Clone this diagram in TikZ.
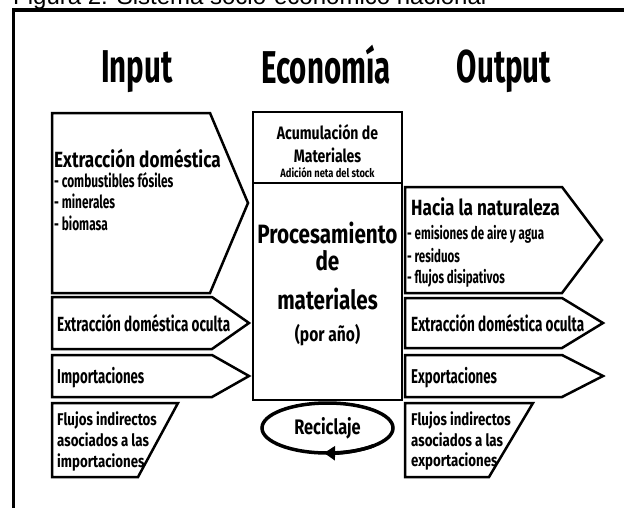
\documentclass[tikz,border=0pt]{standalone}
\usepackage{fontspec}
\setmainfont{Fira Sans}[FakeStretch=0.78]
\newfontfamily\titlefont{Fira Sans}[FakeStretch=0.64]
\newfontfamily\narrowfont{Fira Sans}[FakeStretch=0.66]
\newfontfamily\capfont{Liberation Sans}
\usetikzlibrary{shapes.geometric,arrows.meta}
\tikzset{
  box/.style={draw, line width=2.5pt, line join=miter},
  coltitle/.style={font=\titlefont\bfseries\fontsize{46}{48}\selectfont, anchor=base, inner sep=0pt},
  flowhead/.style={font=\bfseries\fontsize{22}{24}\selectfont, anchor=base west, inner sep=0pt},
  flowitem/.style={font=\narrowfont\bfseries\fontsize{18}{20}\selectfont, anchor=base west, inner sep=0pt},
  flowname/.style={font=\narrowfont\bfseries\fontsize{20}{22}\selectfont, anchor=base west, inner sep=0pt},
  flowsmall/.style={font=\bfseries\fontsize{17}{19}\selectfont, anchor=base west, inner sep=0pt},
  midtext/.style={font=\bfseries\fontsize{18}{20}\selectfont, anchor=base, inner sep=0pt},
  midbig/.style={font=\bfseries\fontsize{26.5}{30}\selectfont, anchor=base, inner sep=0pt},
}
\begin{document}
\begin{tikzpicture}[x=1pt,y=-1pt]
  \useasboundingbox (0,0) rectangle (624,507);
  \fill[white] (0,0) rectangle (624,507);
  % caption and frame
  \node[font=\capfont\fontsize{24}{26}\selectfont, anchor=base west, inner sep=0pt] (cap) at (13,4) {Figura 2: Sistema socio-económico nacional};
  \draw[line width=3.2pt] (13.5,520) |- (640,10);
  % column titles
  \node[coltitle] (input) at (137,82) {Input};
  \node[coltitle] (econ) at (326,83) {Economía};
  \node[coltitle] (output) at (504,82) {Output};
  % input side
  \draw[box] (52,113) -- (210,113) -- (248,203) -- (210,293) -- (52,293) -- cycle;
  \draw[box] (52,297) -- (212,297) -- (249,323) -- (212,349) -- (52,349) -- cycle;
  \draw[box] (52,355) -- (212,355) -- (249,376) -- (212,397) -- (52,397) -- cycle;
  \draw[box] (52,403) -- (178,403) -- (138,477) -- (52,477) -- cycle;
  \node[flowhead] (inext) at (54,167) {Extracción doméstica};
  \node[flowitem] (comb) at (54,187) {- combustibles fósiles};
  \node[flowitem] (mine) at (54,208) {- minerales};
  \node[flowitem] (biom) at (54,230) {- biomasa};
  \node[flowname, font=\narrowfont\bfseries\fontsize{20.5}{22}\selectfont] (inoculta) at (57,331) {Extracción doméstica oculta};
  \node[flowname] (import) at (57,383) {Importaciones};
  \node[flowsmall] (influ1) at (57,425) {Flujos indirectos};
  \node[flowsmall] (influ2) at (57,446) {asociados a las};
  \node[flowsmall] (influ3) at (57,467) {importaciones};
  % economy
  \node[box, minimum width=149pt, minimum height=71pt, inner sep=0pt] (acum) at (327.5,147.5) {};
  \node[box, minimum width=149pt, minimum height=217pt, inner sep=0pt] (proc) at (327.5,291.5) {};
  \node[midtext] (acum1) at (327.5,139) {Acumulación de};
  \node[midtext] (acum2) at (327.5,162) {Materiales};
  \node[midtext, font=\bfseries\fontsize{12}{13}\selectfont] (stock) at (327.5,177) {Adición neta del stock};
  \node[midbig] (proc1) at (327.5,243) {Procesamiento};
  \node[midbig] (proc2) at (327.5,270) {de};
  \node[midbig] (proc3) at (327.5,309) {materiales};
  \node[midtext, font=\bfseries\fontsize{20}{22}\selectfont] (anio) at (327.5,341) {(por año)};
  \node[draw, ellipse, line width=3.5pt, minimum width=131pt, minimum height=50pt, inner sep=0pt,
        font=\bfseries\fontsize{21}{23}\selectfont] (reci) at (327.5,428) {Reciclaje};
  \draw[line width=3.5pt, -{Triangle[length=11pt,width=14pt]}] (reci.center) ++(45:65.5 and 25)
    arc[start angle=45, end angle=93, x radius=65.5, y radius=25];
  % output side
  \draw[box] (405,187) -- (562,187) -- (602,240) -- (562,293) -- (405,293) -- cycle;
  \draw[box] (405,298) -- (562,298) -- (603,323) -- (562,348) -- (405,348) -- cycle;
  \draw[box] (405,355) -- (562,355) -- (603,376) -- (562,397) -- (405,397) -- cycle;
  \draw[box] (405,403) -- (533,403) -- (489,477) -- (405,477) -- cycle;
  \node[flowhead] (outnat) at (411,215) {Hacia la naturaleza};
  \node[flowitem, font=\narrowfont\bfseries\fontsize{17.5}{19}\selectfont] (emis) at (407,239) {- emisiones de aire y agua};
  \node[flowitem, font=\narrowfont\bfseries\fontsize{17.5}{19}\selectfont] (resi) at (407,262) {- residuos};
  \node[flowitem, font=\narrowfont\bfseries\fontsize{17.5}{19}\selectfont] (disi) at (407,283) {- flujos disipativos};
  \node[flowname, font=\narrowfont\bfseries\fontsize{20.5}{22}\selectfont] (outoculta) at (411,331) {Extracción doméstica oculta};
  \node[flowname] (export) at (411,383) {Exportaciones};
  \node[flowsmall] (outflu1) at (411,425) {Flujos indirectos};
  \node[flowsmall] (outflu2) at (411,446) {asociados a las};
  \node[flowsmall] (outflu3) at (411,466) {exportaciones};
\end{tikzpicture}
\end{document}
